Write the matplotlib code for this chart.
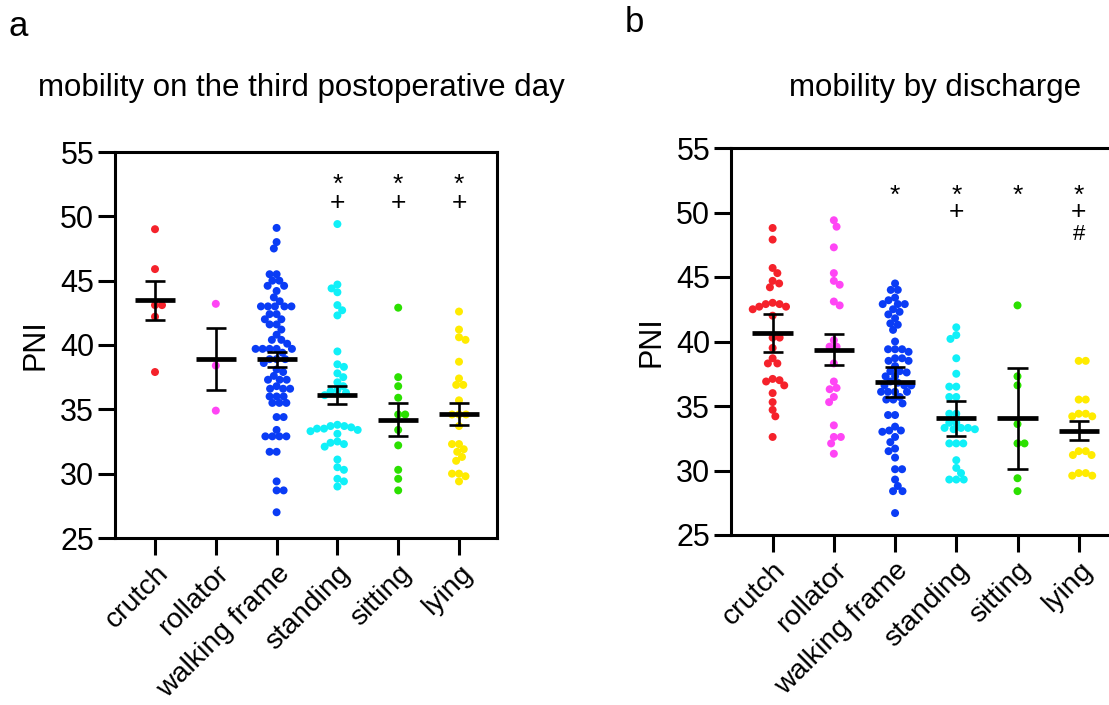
import numpy as np
import matplotlib
matplotlib.use("Agg")
import matplotlib.pyplot as plt
from matplotlib.transforms import ScaledTranslation

plt.rcParams['font.family'] = ['Liberation Sans', 'DejaVu Sans']

categories = ["crutch", "rollator", "walking frame", "standing", "sitting", "lying"]
colors = ["#F5222B", "#FF45F5", "#0A3CF5", "#10F0F8", "#2BE000", "#FFEB00"]

# ---- panel a: mobility on the third postoperative day ----
a_crutch = [49.0, 45.9, 43.1, 43.1, 42.2, 37.9]
a_rollator = [43.2, 38.4, 34.9]
a_walking = [49.1, 48.0, 47.5, 45.5, 45.5, 45.0, 45.0, 44.6, 44.6, 44.2, 43.7, 43.4,
             43.0, 43.0, 43.0, 43.0, 43.0, 42.4, 42.4, 42.0, 42.0, 41.6, 41.6, 41.2,
             40.8, 40.4, 40.4, 40.1, 39.7, 39.7, 39.7, 39.7, 39.7, 39.4, 38.9, 38.9,
             38.9, 38.6, 38.1, 37.9, 37.6, 37.3, 37.3, 37.3, 36.8, 36.6, 36.6, 36.6,
             36.0, 36.0, 36.0, 35.5, 35.5, 35.5, 34.4, 34.4, 33.4, 32.9, 32.9, 32.9,
             32.9, 31.7, 31.7, 29.4, 28.7, 28.7, 27.0]
a_standing = [49.4, 44.7, 44.4, 44.1, 43.1, 42.7, 42.3, 39.5, 38.5, 38.3, 37.8, 37.5,
              37.1, 36.8, 36.5, 36.4, 36.3, 36.1, 33.8, 33.7, 33.7, 33.6, 33.5, 33.5,
              33.4, 33.3, 33.1, 32.5, 32.4, 32.3, 32.1, 31.1, 30.5, 30.3, 29.6, 29.4, 29.0]
a_sitting = [42.9, 37.5, 36.8, 35.9, 34.6, 34.6, 33.4, 32.2, 30.3, 29.6, 28.7]
a_lying = [42.6, 41.2, 40.6, 40.4, 38.7, 37.4, 36.9, 36.9, 35.7, 34.6, 34.6, 34.6,
           33.7, 32.3, 32.3, 31.9, 31.7, 31.3, 31.0, 30.0, 30.0, 29.8, 29.4]
a_means = [43.48, 38.9, 38.89, 36.12, 34.2, 34.64]
a_errs = [1.5, 2.4, 0.58, 0.69, 1.26, 0.84]
a_marks = [[], [], [], ["*", "+"], ["*", "+"], ["*", "+"]]

# ---- panel b: mobility by discharge ----
b_crutch = [48.8, 47.9, 45.7, 45.3, 44.7, 44.5, 44.2, 43.0, 42.9, 42.9, 42.7, 42.7,
            42.5, 42.0, 40.3, 40.3, 39.5, 38.7, 38.3, 38.3, 37.1, 36.9, 37.0, 36.6,
            36.0, 35.3, 34.7, 34.2, 32.6]
b_rollator = [49.4, 48.9, 47.3, 45.3, 44.7, 44.4, 43.1, 42.8, 40.1, 39.6, 39.6, 38.3,
              36.9, 36.4, 36.3, 35.7, 35.3, 33.5, 32.6, 32.6, 32.1, 31.3]
b_walking = [44.5, 44.0, 44.0, 43.4, 43.2, 42.9, 42.9, 42.9, 42.5, 42.3, 42.1, 41.8,
             41.4, 41.3, 40.9, 40.0, 39.4, 39.4, 39.4, 39.2, 38.7, 38.7, 38.5, 38.5,
             38.1, 37.7, 37.7, 37.6, 37.3, 37.3, 36.9, 36.8, 36.6, 36.6, 36.6, 36.1,
             36.1, 36.1, 36.1, 35.7, 35.5, 35.5, 35.2, 34.3, 34.3, 33.4, 33.1, 33.1,
             33.0, 32.6, 32.2, 31.7, 31.5, 31.0, 30.1, 30.1, 29.3, 28.8, 28.4, 28.4, 26.7]
b_standing = [41.1, 40.5, 40.2, 38.7, 37.5, 36.5, 36.5, 35.7, 35.7, 34.4, 34.4, 33.7,
              33.7, 33.3, 33.3, 33.3, 33.2, 33.2, 32.1, 32.1, 32.1, 30.8, 30.2, 29.8,
              29.3, 29.3, 29.3]
b_sitting = [42.8, 37.3, 36.6, 33.6, 32.1, 32.1, 29.4, 28.4]
b_lying = [38.5, 38.5, 35.5, 35.5, 34.4, 34.2, 34.2, 34.4, 31.5, 31.2, 31.2, 31.5,
           29.6, 29.8, 29.6, 29.8]
b_means = [40.65, 39.36, 36.84, 34.05, 34.05, 33.09]
b_errs = [1.5, 1.2, 1.18, 1.36, 3.9, 0.74]
b_marks = [[], [], ["*"], ["*", "+"], ["*"], ["*", "+", "#"]]

a_groups = [a_crutch, a_rollator, a_walking, a_standing, a_sitting, a_lying]
b_groups = [b_crutch, b_rollator, b_walking, b_standing, b_sitting, b_lying]

W, H = 1109, 705
fig = plt.figure(figsize=(W / 100, H / 100), dpi=100)


def px_axes(left, top, right, bottom):
    return fig.add_axes([left / W, 1 - bottom / H, (right - left) / W, (bottom - top) / H])


def swarm(ax, xc, ys, d):
    ys = np.asarray(ys, float)
    trans = ax.transData
    pix = trans.transform(np.column_stack([np.full(len(ys), xc), ys]))
    x0 = pix[0, 0]
    order = np.argsort(-pix[:, 1], kind="stable")
    placed = []
    offs = np.zeros(len(ys))
    flip = 1
    for i in order:
        y = pix[i, 1]
        near = [(px, py) for px, py in placed if abs(py - y) < d]
        cands = [0.0]
        for px, py in near:
            dx = np.sqrt(max(d * d - (py - y) ** 2, 0))
            cands += [px + dx, px - dx]
        cands = sorted(cands, key=lambda c: (round(abs(c), 3), flip * c))
        chosen = 0.0
        for c in cands:
            if all((c - px) ** 2 + (y - py) ** 2 >= d * d - 1e-6 for px, py in near):
                chosen = c
                break
        flip = -flip
        placed.append((chosen, y))
        offs[i] = chosen
    return trans.inverted().transform(np.column_stack([x0 + offs, pix[:, 1]]))[:, 0]


def draw_panel(ax, groups, means, errs, marks, top_y, extra_y, spacing, xlim):
    ax.set_xlim(*xlim)
    ax.set_ylim(25, 55)
    for i, (vals, m, e, col) in enumerate(zip(groups, means, errs, colors)):
        xs = swarm(ax, i, vals, 7.0)
        ax.scatter(xs, vals, s=33, color=col, edgecolors="none", zorder=3, clip_on=False)
        ax.hlines(m, i - 0.33, i + 0.33, color="black", lw=3.4, zorder=5)
        ax.vlines(i, m - e, m + e, color="black", lw=1.9, zorder=5)
        ax.hlines([m - e, m + e], i - 0.165, i + 0.165, color="black", lw=1.9, zorder=5)
        if marks[i]:
            ax.text(i, top_y, "\n".join(marks[i][:2]), ha="center", va="top",
                    fontsize=19, linespacing=spacing, color="black", zorder=6)
            for k, s in enumerate(marks[i][2:]):
                ax.text(i, extra_y[k], s, ha="center", va="center", fontsize=16,
                        color="black", zorder=6)
    ax.set_xticks(range(len(categories)))
    ax.set_xticklabels(categories, rotation=45, ha="right", va="top",
                       rotation_mode="anchor", fontsize=20.5)
    shift = ScaledTranslation(-5 / 72, 2 / 72, fig.dpi_scale_trans)
    for lab in ax.get_xticklabels():
        lab.set_transform(lab.get_transform() + shift)
    ax.set_yticks([25, 30, 35, 40, 45, 50, 55])
    ax.tick_params(axis="both", direction="out", length=12, width=2.2)
    ax.tick_params(axis="y", pad=3, labelsize=22)
    ax.tick_params(axis="x", pad=4)
    for sp in ax.spines.values():
        sp.set_linewidth(2.2)


ax_a = px_axes(115, 152, 497, 538)
draw_panel(ax_a, a_groups, a_means, a_errs, a_marks, 53.4, [], 0.71, (-0.658, 5.625))

ax_b = px_axes(731, 148, 1113, 535)
draw_panel(ax_b, b_groups, b_means, b_errs, b_marks, 52.2, [48.3], 0.58, (-0.68, 5.56))

fig.text(301 / W, 1 - 88 / H, "mobility on the third postoperative day", ha="center",
         va="center", fontsize=22.5)
fig.text(935 / W, 1 - 88 / H, "mobility by discharge", ha="center", va="center", fontsize=22.5)
fig.text(35 / W, 1 - 345 / H, "PNI", rotation=90, ha="center", va="center", fontsize=22)
fig.text(652 / W, 1 - 342 / H, "PNI", rotation=90, ha="center", va="center", fontsize=22)
fig.text(8 / W, 1 - 27 / H, "a", ha="left", va="center", fontsize=25)
fig.text(625 / W, 1 - 23 / H, "b", ha="left", va="center", fontsize=25)

fig.savefig("out.png", dpi=100)
